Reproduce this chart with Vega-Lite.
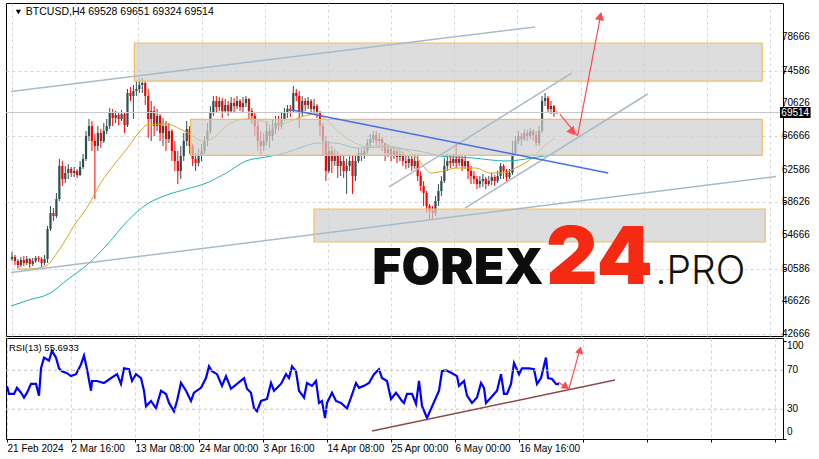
{
"$schema": "https://vega.github.io/schema/vega-lite/v6.json",
"background": "white",
"padding": {"left": 2, "top": 2, "right": 0, "bottom": 0},
"spacing": 2,
"bounds": "flush",
"config": {
 "view": {"stroke": "#000000", "strokeWidth": 1},
 "font": "Liberation Sans",
 "axis": {"labelFont": "Liberation Sans", "labelFontSize": 10, "labelColor": "#000000", "tickColor": "#000000", "tickSize": 3, "gridColor": "#d6d6d6", "gridDash": [3, 3], "domain": false, "title": null, "labelOverlap": false, "labelSeparation": 0, "labelBound": false}
},
"datasets": {
 "candles": [
{"i":0,"o":51760,"h":52610,"l":51520,"c":52000},
{"i":3,"o":52000,"h":52250,"l":51030,"c":51520},
{"i":6,"o":51520,"h":51760,"l":50670,"c":51030},
{"i":9,"o":51030,"h":52000,"l":50790,"c":51640},
{"i":12,"o":51640,"h":52120,"l":50910,"c":51280},
{"i":15,"o":51280,"h":52120,"l":51030,"c":51760},
{"i":18,"o":51760,"h":51880,"l":50670,"c":51150},
{"i":21,"o":51150,"h":51880,"l":50910,"c":51520},
{"i":24,"o":51520,"h":52120,"l":51280,"c":51880},
{"i":27,"o":51880,"h":52120,"l":51400,"c":51760},
{"i":30,"o":51760,"h":52000,"l":50790,"c":51280},
{"i":33,"o":51280,"h":52250,"l":51030,"c":51760},
{"i":36,"o":51760,"h":55760,"l":51280,"c":55400},
{"i":39,"o":55400,"h":58180,"l":55150,"c":57340},
{"i":42,"o":57340,"h":57940,"l":56370,"c":56970},
{"i":45,"o":56970,"h":59760,"l":56730,"c":59030},
{"i":48,"o":59030,"h":63880,"l":58790,"c":63030},
{"i":51,"o":63030,"h":63640,"l":60610,"c":61460},
{"i":54,"o":61460,"h":63030,"l":60970,"c":62180},
{"i":57,"o":62180,"h":63270,"l":61460,"c":62670},
{"i":60,"o":62670,"h":62910,"l":61700,"c":62180},
{"i":63,"o":62180,"h":62910,"l":61700,"c":62430},
{"i":66,"o":62430,"h":62670,"l":61580,"c":61940},
{"i":69,"o":61940,"h":63640,"l":61820,"c":62910},
{"i":72,"o":62910,"h":64490,"l":62670,"c":63880},
{"i":75,"o":63880,"h":67270,"l":63640,"c":66670},
{"i":78,"o":66670,"h":68730,"l":66060,"c":67880},
{"i":81,"o":67880,"h":68490,"l":64850,"c":66060},
{"i":84,"o":66060,"h":66910,"l":59030,"c":65460},
{"i":87,"o":65460,"h":67880,"l":64850,"c":67030},
{"i":90,"o":67030,"h":67520,"l":65210,"c":66060},
{"i":93,"o":66060,"h":68240,"l":65820,"c":67270},
{"i":96,"o":67270,"h":68730,"l":66910,"c":67880},
{"i":99,"o":67880,"h":70060,"l":67520,"c":69460},
{"i":102,"o":69460,"h":69940,"l":67880,"c":68850},
{"i":105,"o":68850,"h":69700,"l":68240,"c":69210},
{"i":108,"o":69210,"h":69580,"l":68000,"c":68730},
{"i":111,"o":68730,"h":69820,"l":68490,"c":69330},
{"i":114,"o":69330,"h":69580,"l":67030,"c":68000},
{"i":117,"o":68000,"h":72360,"l":67760,"c":71880},
{"i":120,"o":71880,"h":72610,"l":70910,"c":71520},
{"i":123,"o":71520,"h":72850,"l":68730,"c":72120},
{"i":126,"o":72120,"h":73330,"l":71520,"c":72360},
{"i":129,"o":72360,"h":73580,"l":71880,"c":72850},
{"i":132,"o":72850,"h":73700,"l":71880,"c":73090},
{"i":135,"o":73090,"h":73330,"l":70430,"c":71520},
{"i":138,"o":71520,"h":72360,"l":66430,"c":68730},
{"i":141,"o":68730,"h":70910,"l":66060,"c":69700},
{"i":144,"o":69700,"h":70300,"l":66670,"c":67880},
{"i":147,"o":67880,"h":69940,"l":67270,"c":69090},
{"i":150,"o":69090,"h":69330,"l":66060,"c":67030},
{"i":153,"o":67030,"h":68850,"l":65460,"c":67880},
{"i":156,"o":67880,"h":68490,"l":64850,"c":66300},
{"i":159,"o":66300,"h":68240,"l":65820,"c":67270},
{"i":162,"o":67270,"h":67520,"l":63640,"c":64850},
{"i":165,"o":64850,"h":66060,"l":62430,"c":63640},
{"i":168,"o":63640,"h":64850,"l":60850,"c":62430},
{"i":171,"o":62430,"h":65460,"l":61460,"c":64240},
{"i":174,"o":64240,"h":67030,"l":63640,"c":66060},
{"i":177,"o":66060,"h":68490,"l":65460,"c":67520},
{"i":180,"o":67520,"h":67880,"l":64490,"c":65460},
{"i":183,"o":65460,"h":65700,"l":63030,"c":63880},
{"i":186,"o":63880,"h":64610,"l":62430,"c":63400},
{"i":189,"o":63400,"h":65090,"l":63030,"c":64240},
{"i":192,"o":64240,"h":65700,"l":63640,"c":64850},
{"i":195,"o":64850,"h":66670,"l":64490,"c":66060},
{"i":198,"o":66060,"h":68240,"l":65460,"c":67270},
{"i":201,"o":67270,"h":70300,"l":66910,"c":69460},
{"i":204,"o":69460,"h":71520,"l":69090,"c":70910},
{"i":207,"o":70910,"h":71520,"l":69460,"c":70180},
{"i":210,"o":70180,"h":71400,"l":69700,"c":70910},
{"i":213,"o":70910,"h":71270,"l":68850,"c":69700},
{"i":216,"o":69700,"h":71150,"l":69460,"c":70430},
{"i":219,"o":70430,"h":70910,"l":69090,"c":69700},
{"i":222,"o":69700,"h":71400,"l":69460,"c":70670},
{"i":225,"o":70670,"h":71270,"l":69460,"c":70300},
{"i":228,"o":70300,"h":71520,"l":69940,"c":70910},
{"i":231,"o":70910,"h":71150,"l":69700,"c":70180},
{"i":234,"o":70180,"h":71400,"l":69460,"c":70670},
{"i":237,"o":70670,"h":71520,"l":70180,"c":71150},
{"i":240,"o":71150,"h":71270,"l":68730,"c":69700},
{"i":243,"o":69700,"h":70060,"l":68120,"c":69090},
{"i":246,"o":69090,"h":69460,"l":66670,"c":67880},
{"i":249,"o":67880,"h":68490,"l":64850,"c":66060},
{"i":252,"o":66060,"h":67270,"l":64490,"c":65460},
{"i":255,"o":65460,"h":67030,"l":64850,"c":66060},
{"i":258,"o":66060,"h":68490,"l":65460,"c":67270},
{"i":261,"o":67270,"h":67880,"l":65210,"c":66670},
{"i":264,"o":66670,"h":68730,"l":66060,"c":67520},
{"i":267,"o":67520,"h":69090,"l":66910,"c":68240},
{"i":270,"o":68240,"h":69090,"l":67270,"c":67880},
{"i":273,"o":67880,"h":69460,"l":67520,"c":68730},
{"i":276,"o":68730,"h":70060,"l":68490,"c":69460},
{"i":279,"o":69460,"h":70430,"l":68850,"c":69940},
{"i":282,"o":69940,"h":70430,"l":68970,"c":69700},
{"i":285,"o":69700,"h":72730,"l":69460,"c":71880},
{"i":288,"o":71880,"h":72360,"l":70910,"c":71520},
{"i":291,"o":71520,"h":72120,"l":67640,"c":69700},
{"i":294,"o":69700,"h":71520,"l":69090,"c":70910},
{"i":297,"o":70910,"h":71270,"l":69700,"c":70430},
{"i":300,"o":70430,"h":71400,"l":69940,"c":70910},
{"i":303,"o":70910,"h":71150,"l":69460,"c":69940},
{"i":306,"o":69940,"h":71150,"l":69330,"c":70300},
{"i":309,"o":70300,"h":70550,"l":68850,"c":69460},
{"i":312,"o":69460,"h":69700,"l":66670,"c":67880},
{"i":315,"o":67880,"h":68240,"l":64240,"c":66060},
{"i":318,"o":66060,"h":66670,"l":61210,"c":62430},
{"i":321,"o":62430,"h":66060,"l":62180,"c":64850},
{"i":324,"o":64850,"h":65460,"l":62180,"c":63640},
{"i":327,"o":63640,"h":65090,"l":63030,"c":64240},
{"i":330,"o":64240,"h":64850,"l":61580,"c":63030},
{"i":333,"o":63030,"h":64490,"l":61820,"c":63640},
{"i":336,"o":63640,"h":64240,"l":61580,"c":62430},
{"i":339,"o":62430,"h":63880,"l":59640,"c":63030},
{"i":342,"o":63030,"h":64240,"l":62430,"c":63640},
{"i":345,"o":63640,"h":64240,"l":59640,"c":61820},
{"i":348,"o":61820,"h":64240,"l":61210,"c":63640},
{"i":351,"o":63640,"h":65210,"l":63400,"c":64610},
{"i":354,"o":64610,"h":65090,"l":63640,"c":64240},
{"i":357,"o":64240,"h":65340,"l":63880,"c":64850},
{"i":360,"o":64850,"h":66300,"l":64490,"c":65820},
{"i":363,"o":65820,"h":66910,"l":65210,"c":66300},
{"i":366,"o":66300,"h":67270,"l":65820,"c":66790},
{"i":369,"o":66790,"h":67270,"l":65460,"c":66060},
{"i":372,"o":66060,"h":67030,"l":65340,"c":66300},
{"i":375,"o":66300,"h":66550,"l":64850,"c":65820},
{"i":378,"o":65820,"h":65820,"l":63640,"c":64610},
{"i":381,"o":64610,"h":65700,"l":64120,"c":65090},
{"i":384,"o":65090,"h":65210,"l":63640,"c":64240},
{"i":387,"o":64240,"h":65340,"l":63880,"c":64850},
{"i":390,"o":64850,"h":65090,"l":63400,"c":64120},
{"i":393,"o":64120,"h":65210,"l":63640,"c":64490},
{"i":396,"o":64490,"h":64850,"l":63030,"c":63640},
{"i":399,"o":63640,"h":64240,"l":62670,"c":63400},
{"i":402,"o":63400,"h":64370,"l":62790,"c":63880},
{"i":405,"o":63880,"h":64240,"l":62430,"c":63030},
{"i":408,"o":63030,"h":64490,"l":62670,"c":63640},
{"i":411,"o":63640,"h":64240,"l":61210,"c":61820},
{"i":414,"o":61820,"h":62430,"l":60000,"c":60610},
{"i":417,"o":60610,"h":61210,"l":58180,"c":59760},
{"i":420,"o":59760,"h":60000,"l":57340,"c":58180},
{"i":423,"o":58180,"h":58430,"l":56610,"c":57580},
{"i":426,"o":57580,"h":58180,"l":56610,"c":57340},
{"i":429,"o":57340,"h":59400,"l":56970,"c":58790},
{"i":432,"o":58790,"h":60850,"l":58180,"c":60000},
{"i":435,"o":60000,"h":61820,"l":59400,"c":61210},
{"i":438,"o":61210,"h":64000,"l":60970,"c":63030},
{"i":441,"o":63030,"h":64490,"l":62430,"c":63640},
{"i":444,"o":63640,"h":64240,"l":62790,"c":63400},
{"i":447,"o":63400,"h":64490,"l":63030,"c":63880},
{"i":450,"o":63880,"h":65700,"l":62790,"c":63400},
{"i":453,"o":63400,"h":64240,"l":63030,"c":63880},
{"i":456,"o":63880,"h":64240,"l":62430,"c":63030},
{"i":459,"o":63030,"h":64240,"l":62670,"c":63640},
{"i":462,"o":63640,"h":63640,"l":61460,"c":62430},
{"i":465,"o":62430,"h":63030,"l":60850,"c":61820},
{"i":468,"o":61820,"h":62430,"l":60850,"c":61460},
{"i":471,"o":61460,"h":61820,"l":60240,"c":60850},
{"i":474,"o":60850,"h":61820,"l":60370,"c":61210},
{"i":477,"o":61210,"h":62060,"l":60490,"c":61460},
{"i":480,"o":61460,"h":61700,"l":60240,"c":60850},
{"i":483,"o":60850,"h":61820,"l":60610,"c":61210},
{"i":486,"o":61210,"h":62180,"l":60730,"c":61700},
{"i":489,"o":61700,"h":61940,"l":60610,"c":61210},
{"i":492,"o":61210,"h":62430,"l":60970,"c":61820},
{"i":495,"o":61820,"h":63400,"l":61460,"c":63030},
{"i":498,"o":63030,"h":63270,"l":61460,"c":62430},
{"i":501,"o":62430,"h":62670,"l":61210,"c":61700},
{"i":504,"o":61700,"h":62670,"l":61460,"c":62180},
{"i":507,"o":62180,"h":66060,"l":61940,"c":64610},
{"i":510,"o":64610,"h":66670,"l":64240,"c":66060},
{"i":513,"o":66060,"h":67270,"l":65700,"c":66670},
{"i":516,"o":66670,"h":67030,"l":65460,"c":66300},
{"i":519,"o":66300,"h":67520,"l":66060,"c":67030},
{"i":522,"o":67030,"h":67400,"l":66060,"c":66670},
{"i":525,"o":66670,"h":67640,"l":66300,"c":67270},
{"i":528,"o":67270,"h":67520,"l":66060,"c":66790},
{"i":531,"o":66790,"h":67270,"l":65460,"c":65820},
{"i":534,"o":65820,"h":67880,"l":65460,"c":67270},
{"i":537,"o":67270,"h":71520,"l":67030,"c":70910},
{"i":540,"o":70910,"h":71880,"l":70300,"c":71270},
{"i":543,"o":71270,"h":71520,"l":69460,"c":69940},
{"i":546,"o":69940,"h":70910,"l":69330,"c":70300},
{"i":549,"o":70300,"h":70430,"l":68970,"c":69460},
{"i":552,"o":69528,"h":69651,"l":69324,"c":69514}
 ],
 "ma": [
{"s":"fast","i":5,"v":50550},{"s":"fast","i":17,"v":50550},{"s":"fast","i":34,"v":50910},{"s":"fast","i":47,"v":52730},{"s":"fast","i":64,"v":56000},{"s":"fast","i":77,"v":58200},{"s":"fast","i":90,"v":61000},{"s":"fast","i":104,"v":63270},{"s":"fast","i":117,"v":65210},{"s":"fast","i":130,"v":67270},{"s":"fast","i":137,"v":68000},{"s":"fast","i":157,"v":68120},{"s":"fast","i":170,"v":67520},{"s":"fast","i":180,"v":66910},{"s":"fast","i":194,"v":66060},{"s":"fast","i":204,"v":66430},{"s":"fast","i":220,"v":68120},{"s":"fast","i":237,"v":68730},{"s":"fast","i":254,"v":68490},{"s":"fast","i":264,"v":67880},{"s":"fast","i":277,"v":68240},{"s":"fast","i":290,"v":68850},{"s":"fast","i":307,"v":69330},{"s":"fast","i":320,"v":68490},{"s":"fast","i":330,"v":67270},{"s":"fast","i":344,"v":66060},{"s":"fast","i":357,"v":65460},{"s":"fast","i":377,"v":65460},{"s":"fast","i":397,"v":65090},{"s":"fast","i":410,"v":64000},{"s":"fast","i":425,"v":62180},{"s":"fast","i":437,"v":62430},{"s":"fast","i":450,"v":62790},{"s":"fast","i":470,"v":62790},{"s":"fast","i":484,"v":62180},{"s":"fast","i":497,"v":62180},{"s":"fast","i":510,"v":62790},{"s":"fast","i":527,"v":64000},{"s":"fast","i":537,"v":65210},{"s":"fast","i":550,"v":66430},
{"s":"slow","i":-1,"v":46060},{"s":"slow","i":17,"v":46790},{"s":"slow","i":37,"v":47520},{"s":"slow","i":57,"v":49340},{"s":"slow","i":77,"v":51150},{"s":"slow","i":97,"v":53580},{"s":"slow","i":117,"v":56370},{"s":"slow","i":137,"v":58430},{"s":"slow","i":157,"v":59520},{"s":"slow","i":177,"v":60240},{"s":"slow","i":197,"v":60970},{"s":"slow","i":217,"v":62180},{"s":"slow","i":237,"v":63640},{"s":"slow","i":257,"v":64120},{"s":"slow","i":277,"v":64610},{"s":"slow","i":297,"v":65460},{"s":"slow","i":310,"v":65820},{"s":"slow","i":327,"v":65820},{"s":"slow","i":350,"v":65210},{"s":"slow","i":377,"v":65340},{"s":"slow","i":397,"v":65090},{"s":"slow","i":417,"v":64730},{"s":"slow","i":434,"v":64240},{"s":"slow","i":467,"v":64000},{"s":"slow","i":500,"v":63640},{"s":"slow","i":527,"v":64000},{"s":"slow","i":550,"v":64490}
 ],
 "zones": [
{"i1":124,"i2":760,"p1":73330,"p2":77940},
{"i1":181,"i2":760,"p1":64330,"p2":68690},
{"i1":306,"i2":763,"p1":53820,"p2":57820}
 ],
 "tl": [
{"g":"up","i":-1,"p":72060},{"g":"up","i":530,"p":79880},
{"g":"low","i":-1,"p":50124},{"g":"low","i":774,"p":61772},
{"g":"ch1","i":382,"p":60490},{"g":"ch1","i":567,"p":74300},
{"g":"ch2","i":459,"p":57940},{"g":"ch2","i":644,"p":71760},
{"g":"blue","i":280,"p":69900},{"g":"blue","i":604,"p":62180}
 ],
 "arrows": [
{"g":"a1","i":555,"p":69330},{"g":"a1","i":573,"p":66670},
{"g":"a2","i":573,"p":66670},{"g":"a2","i":596,"p":81090}
 ],
 "yticks": [{"v":42666},{"v":46626},{"v":50586},{"v":54666},{"v":58626},{"v":62586},{"v":66666},{"v":70626},{"v":74586},{"v":78666}],
 "rsi": [
{"i":0,"r":53.9},{"i":2,"r":45.7},{"i":7,"r":45.7},{"i":10,"r":52},{"i":14,"r":47},{"i":17,"r":42},{"i":20,"r":47},{"i":24,"r":56},{"i":29,"r":56},{"i":32,"r":44},{"i":34,"r":72},{"i":37,"r":83},{"i":42,"r":80},{"i":45,"r":90},{"i":49,"r":83},{"i":52,"r":72},{"i":55,"r":69},{"i":60,"r":67},{"i":64,"r":64},{"i":69,"r":66},{"i":74,"r":76},{"i":77,"r":85},{"i":80,"r":71},{"i":84,"r":49},{"i":85,"r":59},{"i":90,"r":59},{"i":97,"r":57},{"i":104,"r":62},{"i":110,"r":66},{"i":114,"r":56},{"i":117,"r":72},{"i":122,"r":71},{"i":125,"r":59},{"i":129,"r":66},{"i":134,"r":62},{"i":137,"r":49},{"i":139,"r":33},{"i":144,"r":38.5},{"i":149,"r":31},{"i":154,"r":49},{"i":159,"r":45.7},{"i":162,"r":36.5},{"i":167,"r":28},{"i":170,"r":38.5},{"i":174,"r":57},{"i":179,"r":49},{"i":184,"r":38.5},{"i":187,"r":47},{"i":194,"r":52},{"i":199,"r":62},{"i":202,"r":74},{"i":205,"r":69},{"i":210,"r":66},{"i":215,"r":54},{"i":219,"r":64},{"i":224,"r":51},{"i":230,"r":56},{"i":237,"r":62},{"i":240,"r":51},{"i":244,"r":47},{"i":247,"r":31},{"i":250,"r":28},{"i":254,"r":38.5},{"i":260,"r":40.6},{"i":264,"r":57},{"i":267,"r":49},{"i":274,"r":56},{"i":279,"r":66},{"i":282,"r":62},{"i":285,"r":74},{"i":289,"r":69},{"i":292,"r":49},{"i":297,"r":42},{"i":300,"r":57},{"i":305,"r":54},{"i":309,"r":59},{"i":312,"r":36.5},{"i":315,"r":38.5},{"i":318,"r":21},{"i":320,"r":36.5},{"i":325,"r":47},{"i":329,"r":38.5},{"i":334,"r":36.5},{"i":340,"r":31},{"i":344,"r":42},{"i":349,"r":57},{"i":352,"r":52},{"i":357,"r":54},{"i":362,"r":57},{"i":367,"r":66},{"i":372,"r":71},{"i":375,"r":62},{"i":380,"r":59},{"i":384,"r":40.6},{"i":389,"r":47},{"i":395,"r":38.5},{"i":397,"r":36.5},{"i":400,"r":45.7},{"i":405,"r":45.7},{"i":409,"r":35.5},{"i":412,"r":59},{"i":415,"r":33.5},{"i":420,"r":21},{"i":424,"r":30.4},{"i":429,"r":42},{"i":432,"r":49},{"i":435,"r":69},{"i":439,"r":70},{"i":445,"r":67},{"i":450,"r":64},{"i":452,"r":54},{"i":457,"r":59},{"i":460,"r":44},{"i":465,"r":36.5},{"i":470,"r":42},{"i":474,"r":57},{"i":477,"r":52},{"i":479,"r":36.5},{"i":484,"r":42},{"i":490,"r":49},{"i":494,"r":66},{"i":497,"r":45.7},{"i":500,"r":45.7},{"i":504,"r":56},{"i":507,"r":77.5},{"i":512,"r":66},{"i":515,"r":72},{"i":522,"r":72},{"i":527,"r":71},{"i":530,"r":56},{"i":534,"r":62},{"i":539,"r":83},{"i":541,"r":62},{"i":545,"r":61},{"i":549,"r":56},{"i":552,"r":55.7}
 ],
 "rtl": [{"i":365,"r":7.7},{"i":608,"r":60}],
 "rarrows": [
{"g":"b1","i":551,"r":58},{"g":"b1","i":562,"r":51},
{"g":"b2","i":562,"r":51},{"g":"b2","i":573,"r":92}
 ],
 "rticks": [{"v":30},{"v":70}]
},
"vconcat": [
 {
  "width": 777,
  "height": 333,
  "resolve": {"scale": {"color": "independent", "stroke": "independent"}},
  "layer": [
   {
    "data": {"name": "candles"},
    "mark": {"type": "rule", "strokeWidth": 1},
    "encoding": {
     "x": {"field": "i", "type": "quantitative", "scale": {"domain": [-1, 776], "nice": false, "zero": false},
       "axis": {"values": [0,32,64,96,128,160,192,224,256,288,320,352,384,416,448,480,512,544,576,608,640,672,704,736,768], "grid": true, "labels": false, "ticks": false, "domain": false, "title": null, "minExtent": 0, "maxExtent": 0}},
     "y": {"field": "l", "type": "quantitative", "scale": {"domain": [42428, 82788], "nice": false, "zero": false},
       "axis": {"orient": "right", "values": [42666,46626,50586,54666,58626,62586,66666,70626,74586,78666], "labels": false, "grid": true, "title": null}},
     "y2": {"field": "h"},
     "color": {"condition": {"test": "datum.c >= datum.o", "value": "#2f4f4f"}, "value": "#ff0000"}
    }
   },
   {
    "data": {"name": "candles"},
    "mark": {"type": "bar", "width": 2.2},
    "encoding": {
     "x": {"field": "i", "type": "quantitative"},
     "y": {"field": "o", "type": "quantitative"},
     "y2": {"field": "c"},
     "color": {"condition": {"test": "datum.c >= datum.o", "value": "#2f4f4f"}, "value": "#ff0000"}
    }
   },
   {
    "data": {"name": "ma"},
    "mark": {"type": "line", "strokeWidth": 1, "interpolate": "monotone"},
    "encoding": {
     "x": {"field": "i", "type": "quantitative"},
     "y": {"field": "v", "type": "quantitative"},
     "color": {"field": "s", "type": "nominal", "scale": {"domain": ["fast", "slow"], "range": ["#daa520", "#20b2aa"]}, "legend": null}
    }
   },
   {
    "data": {"values": [{}]},
    "mark": {"type": "rule", "color": "#c8c8c8", "strokeWidth": 1},
    "encoding": {"y": {"datum": 69514, "type": "quantitative"}}
   },
   {
    "data": {"name": "zones"},
    "mark": {"type": "rect", "fill": "#cfcfcf", "fillOpacity": 0.7, "stroke": "#f2bd5c", "strokeWidth": 1.2},
    "encoding": {
     "x": {"field": "i1", "type": "quantitative"},
     "x2": {"field": "i2"},
     "y": {"field": "p1", "type": "quantitative"},
     "y2": {"field": "p2"}
    }
   },
   {
    "data": {"name": "tl"},
    "mark": {"type": "line", "strokeWidth": 1.5},
    "encoding": {
     "x": {"field": "i", "type": "quantitative"},
     "y": {"field": "p", "type": "quantitative"},
     "detail": {"field": "g"},
     "stroke": {"field": "g", "type": "nominal", "scale": {"domain": ["up", "low", "ch1", "ch2", "blue"], "range": ["#a8bac8", "#a8bac8", "#a8bac8", "#a8bac8", "#4a6fe3"]}, "legend": null}
    }
   },
   {
    "data": {"name": "arrows"},
    "mark": {"type": "line", "strokeWidth": 1.2, "color": "#ff4a4a"},
    "encoding": {
     "x": {"field": "i", "type": "quantitative"},
     "y": {"field": "p", "type": "quantitative"},
     "detail": {"field": "g"}
    }
   },
   {
    "data": {"values": [{}]},
    "mark": {"type": "point", "shape": "triangle-up", "filled": true, "color": "#ff4a4a", "opacity": 1, "size": 90, "angle": 141},
    "encoding": {"x": {"datum": 568, "type": "quantitative"}, "y": {"datum": 67150, "type": "quantitative"}}
   },
   {
    "data": {"values": [{}]},
    "mark": {"type": "point", "shape": "triangle-up", "filled": true, "color": "#ff4a4a", "opacity": 1, "size": 90, "angle": 11},
    "encoding": {"x": {"datum": 596, "type": "quantitative"}, "y": {"datum": 81210, "type": "quantitative"}}
   },
   {
    "data": {"values": [{}]},
    "mark": {"type": "point", "shape": "triangle-down", "filled": true, "color": "#000000", "opacity": 1, "size": 28},
    "encoding": {"x": {"datum": 6.5, "type": "quantitative"}, "y": {"datum": 81697, "type": "quantitative"}}
   },
   {
    "data": {"values": [{}]},
    "mark": {"type": "text", "text": "BTCUSD,H4  69528 69651 69324 69514", "align": "left", "baseline": "middle", "fontSize": 10.5, "font": "Liberation Sans", "color": "#000000"},
    "encoding": {"x": {"datum": 14, "type": "quantitative"}, "y": {"datum": 81697, "type": "quantitative"}}
   },
   {
    "data": {"values": [{}]},
    "mark": {"type": "text", "text": "FOREX", "align": "left", "baseline": "alphabetic", "fontSize": 50, "font": "Inter", "fontWeight": 900, "color": "#0d0d0d"},
    "encoding": {"x": {"datum": 365, "type": "quantitative"}, "y": {"datum": 48730, "type": "quantitative"}}
   },
   {
    "data": {"values": [{}]},
    "mark": {"type": "text", "text": "24", "align": "left", "baseline": "alphabetic", "fontSize": 80, "font": "Inter", "fontWeight": 900, "color": "#f52a12"},
    "encoding": {"x": {"datum": 541, "type": "quantitative"}, "y": {"datum": 48730, "type": "quantitative"}}
   },
   {
    "data": {"values": [{}]},
    "mark": {"type": "text", "text": ".PRO", "align": "left", "baseline": "alphabetic", "fontSize": 39, "font": "Inter", "fontWeight": 300, "color": "#111111"},
    "encoding": {"x": {"datum": 652, "type": "quantitative"}, "y": {"datum": 48730, "type": "quantitative"}}
   },
   {
    "data": {"name": "yticks"},
    "mark": {"type": "text", "align": "left", "baseline": "middle", "fontSize": 10, "font": "Liberation Sans", "color": "#000000", "clip": false, "dx": 4},
    "encoding": {"x": {"datum": 776, "type": "quantitative"}, "y": {"field": "v", "type": "quantitative"}, "text": {"field": "v", "type": "quantitative", "format": "d"}}
   },
   {
    "data": {"values": [{}]},
    "mark": {"type": "rect", "fill": "#000000", "fillOpacity": 1, "clip": false},
    "encoding": {"x": {"datum": 778, "type": "quantitative"}, "x2": {"datum": 809}, "y": {"datum": 68850, "type": "quantitative"}, "y2": {"datum": 70180}}
   },
   {
    "data": {"values": [{}]},
    "mark": {"type": "text", "text": "69514", "align": "center", "baseline": "middle", "fontSize": 10, "font": "Liberation Sans", "color": "#ffffff", "clip": false},
    "encoding": {"x": {"datum": 793.5, "type": "quantitative"}, "y": {"datum": 69514, "type": "quantitative"}}
   }
  ]
 },
 {
  "width": 777,
  "height": 101,
  "layer": [
   {
    "data": {"name": "rsi"},
    "mark": {"type": "line", "color": "#0000ff", "strokeWidth": 2.2, "interpolate": "linear"},
    "encoding": {
     "x": {"field": "i", "type": "quantitative", "scale": {"domain": [-1, 776], "nice": false, "zero": false},
       "axis": {"values": [0,32,64,96,128,160,192,224,256,288,320,352,384,416,448,480,512,544,576,608,640,672,704,736,768], "grid": true, "labelAlign": "left", "labelBaseline": "middle", "labelPadding": 6, "labelOverlap": false, "labelFlush": false, "labelBound": false,
        "labelExpr": "datum.value==0?'21 Feb 2024':datum.value==64?'2 Mar 16:00':datum.value==128?'13 Mar 08:00':datum.value==192?'24 Mar 00:00':datum.value==256?'3 Apr 16:00':datum.value==320?'14 Apr 08:00':datum.value==384?'25 Apr 00:00':datum.value==448?'6 May 00:00':datum.value==512?'16 May 16:00':''", "title": null}},
     "y": {"field": "r", "type": "quantitative", "scale": {"domain": [-0.5, 103.1], "nice": false, "zero": false},
       "axis": {"orient": "right", "values": [0, 30, 70, 100], "grid": false, "labels": false, "title": null}}
    }
   },
   {
    "data": {"values": [{}]},
    "mark": {"type": "rule", "color": "#c4c4c4", "strokeDash": [3, 3], "strokeWidth": 1},
    "encoding": {"y": {"datum": 70, "type": "quantitative"}}
   },
   {
    "data": {"values": [{}]},
    "mark": {"type": "rule", "color": "#c4c4c4", "strokeDash": [3, 3], "strokeWidth": 1},
    "encoding": {"y": {"datum": 30, "type": "quantitative"}}
   },
   {
    "data": {"name": "rtl"},
    "mark": {"type": "line", "color": "#8c4a4a", "strokeWidth": 1.5},
    "encoding": {"x": {"field": "i", "type": "quantitative"}, "y": {"field": "r", "type": "quantitative"}}
   },
   {
    "data": {"name": "rarrows"},
    "mark": {"type": "line", "strokeWidth": 1.2, "color": "#ff4a4a"},
    "encoding": {"x": {"field": "i", "type": "quantitative"}, "y": {"field": "r", "type": "quantitative"}, "detail": {"field": "g"}}
   },
   {
    "data": {"values": [{}]},
    "mark": {"type": "point", "shape": "triangle-up", "filled": true, "color": "#ff4a4a", "opacity": 1, "size": 70, "angle": 125},
    "encoding": {"x": {"datum": 559, "type": "quantitative"}, "y": {"datum": 53, "type": "quantitative"}}
   },
   {
    "data": {"values": [{}]},
    "mark": {"type": "point", "shape": "triangle-up", "filled": true, "color": "#ff4a4a", "opacity": 1, "size": 70, "angle": 14},
    "encoding": {"x": {"datum": 573, "type": "quantitative"}, "y": {"datum": 90.8, "type": "quantitative"}}
   },
   {
    "data": {"name": "rticks"},
    "mark": {"type": "text", "align": "left", "baseline": "middle", "fontSize": 10, "font": "Liberation Sans", "color": "#000000", "clip": false, "dx": 4},
    "encoding": {"x": {"datum": 776, "type": "quantitative"}, "y": {"field": "v", "type": "quantitative"}, "text": {"field": "v", "type": "quantitative", "format": "d"}}
   },
   {
    "data": {"values": [{}]},
    "mark": {"type": "text", "text": "100", "align": "left", "baseline": "middle", "fontSize": 10, "font": "Liberation Sans", "color": "#000000", "clip": false, "dx": 4, "dy": 5},
    "encoding": {"x": {"datum": 776, "type": "quantitative"}, "y": {"datum": 100, "type": "quantitative"}}
   },
   {
    "data": {"values": [{}]},
    "mark": {"type": "text", "text": "0", "align": "left", "baseline": "middle", "fontSize": 10, "font": "Liberation Sans", "color": "#000000", "clip": false, "dx": 4, "dy": -7},
    "encoding": {"x": {"datum": 776, "type": "quantitative"}, "y": {"datum": 0, "type": "quantitative"}}
   },
   {
    "data": {"values": [{}]},
    "mark": {"type": "text", "text": "RSI(13) 55.6933", "align": "left", "baseline": "middle", "fontSize": 9.5, "font": "Liberation Sans", "color": "#000000"},
    "encoding": {"x": {"datum": 2, "type": "quantitative"}, "y": {"datum": 93.2, "type": "quantitative"}}
   }
  ]
 }
]
}
